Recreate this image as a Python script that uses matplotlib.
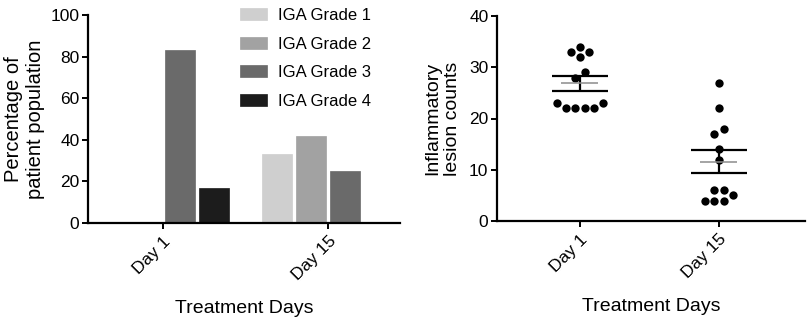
import numpy as np
import matplotlib
matplotlib.use("Agg")
import matplotlib.pyplot as plt

plt.rcParams['font.family'] = ['Liberation Sans', 'DejaVu Sans']

# IGA grade distribution (% of patients) per visit
days = ["Day 1", "Day 15"]
grades = ["IGA Grade 1", "IGA Grade 2", "IGA Grade 3", "IGA Grade 4"]
grade1 = [0, 33.3]
grade2 = [0, 41.7]
grade3 = [83.3, 25.0]
grade4 = [16.7, 0]
grade_colors = ["#cfcfcf", "#a2a2a2", "#6a6a6a", "#1c1c1c"]

# inflammatory lesion counts per patient
lesions_day1 = [34, 33, 33, 32, 29, 28, 23, 23, 22, 22, 22, 22]
lesions_day15 = [27, 22, 18, 17, 14, 12, 6, 6, 5, 4, 4, 4]


def swarm(vals, tol=1.5):
    # group close values into rows and spread each row around the centre
    vals = np.sort(np.asarray(vals, dtype=float))
    rows, cur = [], [vals[0]]
    for v in vals[1:]:
        if v - cur[0] >= tol:
            rows.append(cur)
            cur = [v]
        else:
            cur.append(v)
    rows.append(cur)
    ys, offs = [], []
    for row in rows:
        n = len(row)
        if n % 2:
            slots = [0] + [s * k for k in range(1, n // 2 + 1) for s in (-1, 1)]
        else:
            slots = [s * (k - 0.5) for k in range(1, n // 2 + 1) for s in (-1, 1)]
        ys += row
        offs += slots[:n]
    return np.array(ys), np.array(offs)


fig = plt.figure(figsize=(8.12, 3.25), dpi=100)

# ---- left: grouped bars
ax1 = fig.add_axes([88 / 812, 102 / 325, 312 / 812, 208 / 325])
x = np.arange(len(days))
step, width = 0.206, 0.18
for i, (vals, lab, col) in enumerate(zip([grade1, grade2, grade3, grade4], grades, grade_colors)):
    ax1.bar(x + (i - 1.5) * step, vals, width, color=col, label=lab,
            edgecolor=col, linewidth=0.5)
ax1.set_xlim(-0.455, 1.436)
ax1.set_ylim(0, 100)
ax1.set_yticks([0, 20, 40, 60, 80, 100])
ax1.set_xticks(x)
ax1.set_xticklabels(days, rotation=45, ha="right", rotation_mode="anchor")
ax1.set_ylabel("Percentage of\npatient population", fontsize=14.5, labelpad=4, linespacing=1.2)
ax1.set_xlabel("Treatment Days", fontsize=14, labelpad=12)
ax1.legend(loc="upper left", bbox_to_anchor=(0.487, 1.033), frameon=False,
           fontsize=12, borderpad=0, borderaxespad=0, handlelength=1.6,
           handleheight=0.7, handletextpad=0.66, labelspacing=0.81)

# ---- right: scatter with mean and SEM
ax2 = fig.add_axes([497 / 812, 104 / 325, 308 / 812, 205 / 325])
jit = 0.067
for pos, vals in enumerate([lesions_day1, lesions_day15]):
    ys, offs = swarm(vals)
    ax2.scatter(pos + offs * jit, ys, s=36, color="black", zorder=2, linewidths=0)
    m = np.mean(vals)
    sem = np.std(vals, ddof=1) / np.sqrt(len(vals))
    ax2.hlines([m - sem, m + sem], pos - 0.2, pos + 0.2, color="black", lw=1.6, zorder=3)
    ax2.vlines(pos, m - sem, m + sem, color="black", lw=1.6, zorder=3)
    ax2.hlines(m, pos - 0.133, pos + 0.133, color="#8c8c8c", lw=1.1, zorder=4)
ax2.set_xlim(-0.597, 1.619)
ax2.set_ylim(0, 40)
ax2.set_yticks([0, 10, 20, 30, 40])
ax2.set_xticks([0, 1])
ax2.set_xticklabels(days, rotation=45, ha="right", rotation_mode="anchor")
ax2.set_ylabel("Inflammatory\nlesion counts", fontsize=14, labelpad=6, linespacing=1.2)
ax2.set_xlabel("Treatment Days", fontsize=14, labelpad=12)

for ax in (ax1, ax2):
    for side in ("top", "right"):
        ax.spines[side].set_visible(False)
    for side in ("left", "bottom"):
        ax.spines[side].set_linewidth(1.6)
    ax.tick_params(axis="both", width=1.4, length=4.2, labelsize=12.5, color="black")
    ax.tick_params(axis="y", pad=2)

fig.savefig("out.png", dpi=100)
